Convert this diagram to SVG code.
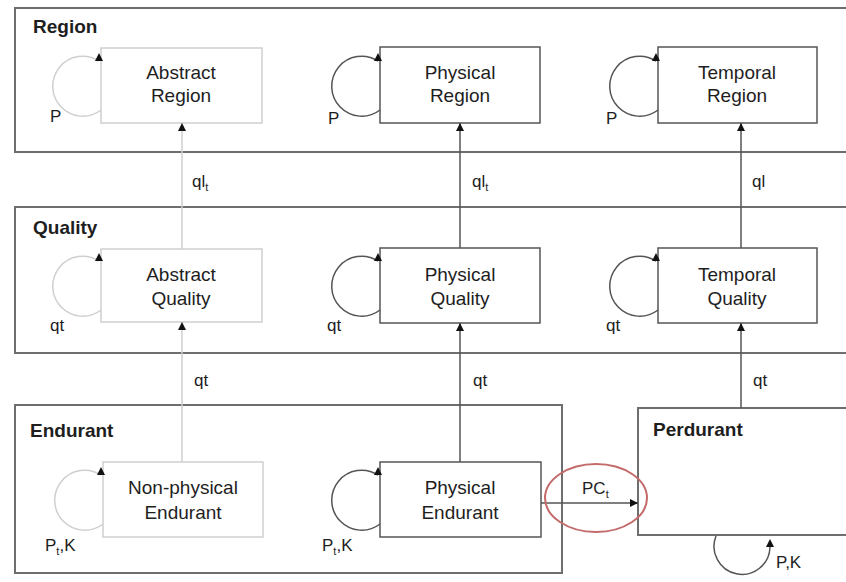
<svg xmlns="http://www.w3.org/2000/svg" width="846" height="582" viewBox="0 0 846 582">
<style>
text{font-family:"Liberation Sans",Arial,sans-serif;fill:#1e1e1e}
.hdr{font-size:19px;font-weight:bold}
.nt{font-size:19px;text-anchor:middle}
.lb{font-size:17px}
.sub{font-size:11px}
.cont{fill:#fff;stroke:#6e6e6e;stroke-width:2}
.box{fill:#fff;stroke:#555;stroke-width:1.5}
.fbox{fill:#fff;stroke:#cfcfcf;stroke-width:1.5}
.ln{fill:none;stroke:#555;stroke-width:1.5}
.fln{fill:none;stroke:#cfcfcf;stroke-width:1.5}
</style>
<defs>
<marker id="ah" viewBox="0 0 10 10" refX="10" refY="5" markerWidth="8" markerHeight="8" markerUnits="userSpaceOnUse" orient="auto"><path d="M0,0 L10,5 L0,10 z" fill="#111"/></marker>
<marker id="up" viewBox="0 0 10 10" refX="0" refY="5" markerWidth="8" markerHeight="8" markerUnits="userSpaceOnUse" orient="-90"><path d="M0,0 L10,5 L0,10 z" fill="#111"/></marker>
</defs>
<rect width="846" height="582" fill="#fff"/>
<g id="region">
<rect class="cont" x="15" y="8" width="840" height="144"/>
<text class="hdr" x="33" y="33">Region</text>
</g>
<g id="quality">
<rect class="cont" x="15" y="207" width="840" height="146"/>
<text class="hdr" x="33" y="234">Quality</text>
</g>
<g id="endurant">
<rect class="cont" x="15" y="405" width="547" height="168"/>
<text class="hdr" x="30" y="437">Endurant</text>
</g>
<g id="perdurant">
<rect class="cont" x="638" y="408" width="220" height="127"/>
<text class="hdr" x="653" y="436">Perdurant</text>
</g>
<g id="abstract-region">
<rect class="fbox" x="101" y="48" width="161" height="75"/>
<text class="nt" x="181" y="79">Abstract</text><text class="nt" x="181" y="102">Region</text>
</g>
<g id="physical-region">
<rect class="box" x="380" y="47" width="160" height="76"/>
<text class="nt" x="460" y="79">Physical</text><text class="nt" x="460" y="102">Region</text>
</g>
<g id="temporal-region">
<rect class="box" x="658" y="47" width="159" height="76"/>
<text class="nt" x="737" y="79">Temporal</text><text class="nt" x="737" y="102">Region</text>
</g>
<g id="abstract-quality">
<rect class="fbox" x="101" y="249" width="161" height="73"/>
<text class="nt" x="181" y="281">Abstract</text><text class="nt" x="181" y="305">Quality</text>
</g>
<g id="physical-quality">
<rect class="box" x="380" y="248" width="160" height="75"/>
<text class="nt" x="460" y="281">Physical</text><text class="nt" x="460" y="305">Quality</text>
</g>
<g id="temporal-quality">
<rect class="box" x="658" y="248" width="159" height="75"/>
<text class="nt" x="737" y="281">Temporal</text><text class="nt" x="737" y="305">Quality</text>
</g>
<g id="non-physical-endurant">
<rect class="fbox" x="103" y="462" width="160" height="75"/>
<text class="nt" x="183" y="494">Non-physical</text><text class="nt" x="183" y="519">Endurant</text>
</g>
<g id="physical-endurant">
<rect class="box" x="380" y="462" width="161" height="75"/>
<text class="nt" x="460" y="494">Physical</text><text class="nt" x="460" y="519">Endurant</text>
</g>
<g id="connectors">
<path class="fln" d="M182,249 V123" marker-end="url(#ah)"/>
<path class="ln" d="M460,248 V123" marker-end="url(#ah)"/>
<path class="ln" d="M741,248 V123" marker-end="url(#ah)"/>
<path class="fln" d="M182,462 V322" marker-end="url(#ah)"/>
<path class="ln" d="M460,462 V323" marker-end="url(#ah)"/>
<path class="ln" d="M741,408 V323" marker-end="url(#ah)"/>
<path class="ln" d="M541,503 H638" marker-end="url(#ah)"/>
<path class="fln" d="M101,110 A30,30 0 1 1 99,61" marker-end="url(#up)"/>
<path class="ln" d="M380,110 A30,30 0 1 1 378,61" marker-end="url(#up)"/>
<path class="ln" d="M658,110 A30,30 0 1 1 656,61" marker-end="url(#up)"/>
<path class="fln" d="M101,310 A30,30 0 1 1 99,261" marker-end="url(#up)"/>
<path class="ln" d="M380,310 A30,30 0 1 1 378,261" marker-end="url(#up)"/>
<path class="ln" d="M658,310 A30,30 0 1 1 656,261" marker-end="url(#up)"/>
<path class="fln" d="M103,524 A30,30 0 1 1 101,475" marker-end="url(#up)"/>
<path class="ln" d="M380,524 A30,30 0 1 1 378,475" marker-end="url(#up)"/>
<path class="ln" d="M716,536 A28,28 0 1 0 770,547" marker-end="url(#up)"/>
<ellipse cx="596" cy="498" rx="51" ry="34" fill="none" stroke="#c46a6a" stroke-width="2"/>
</g>
<g id="labels">
<text class="lb" x="50" y="122">P</text>
<text class="lb" x="328" y="124">P</text>
<text class="lb" x="606" y="124">P</text>
<text class="lb" x="192" y="187">ql<tspan class="sub" dy="4">t</tspan></text>
<text class="lb" x="472" y="187">ql<tspan class="sub" dy="4">t</tspan></text>
<text class="lb" x="752" y="187">ql</text>
<text class="lb" x="50" y="331">qt</text>
<text class="lb" x="327" y="331">qt</text>
<text class="lb" x="606" y="331">qt</text>
<text class="lb" x="194" y="386">qt</text>
<text class="lb" x="473" y="386">qt</text>
<text class="lb" x="753" y="386">qt</text>
<text class="lb" x="45" y="551">P<tspan class="sub" dy="4">t</tspan><tspan dy="-4">,K</tspan></text>
<text class="lb" x="322" y="551">P<tspan class="sub" dy="4">t</tspan><tspan dy="-4">,K</tspan></text>
<text class="lb" x="776" y="568">P,K</text>
<text class="lb" x="582" y="494">PC<tspan class="sub" dy="4">t</tspan></text>
</g>
</svg>
